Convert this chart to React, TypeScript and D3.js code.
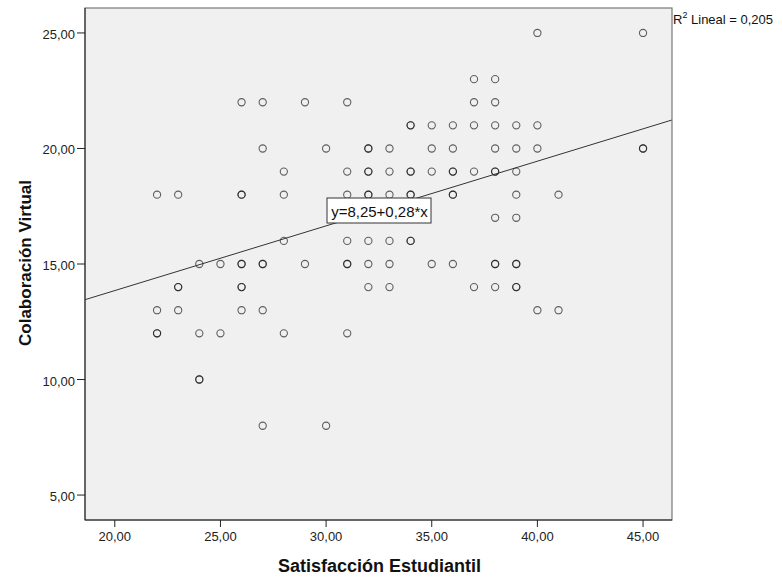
import React from "react";
import * as d3 from "d3";

const satisfaccion = [
  40, 45,
  37, 38,
  26, 27, 29, 31, 37, 38,
  34, 34, 35, 36, 37, 38, 39, 40,
  27, 30, 32, 32, 33, 35, 36, 38, 39, 40, 45, 45,
  28, 31, 32, 32, 33, 34, 34, 35, 36, 36, 37, 38, 38, 39,
  22, 23, 26, 26, 28, 31, 32, 32, 33, 34, 34, 36, 36, 39, 41,
  38, 39,
  28, 31, 32, 33, 34, 34,
  24, 25, 26, 26, 27, 27, 29, 31, 31, 32, 33, 35, 36, 38, 38, 39, 39,
  23, 23, 26, 26, 32, 33, 37, 38, 39, 39,
  22, 23, 26, 27, 40, 41,
  22, 22, 24, 25, 28, 31,
  24, 24,
  27, 30,
];
const colaboracion = [
  25, 25,
  23, 23,
  22, 22, 22, 22, 22, 22,
  21, 21, 21, 21, 21, 21, 21, 21,
  20, 20, 20, 20, 20, 20, 20, 20, 20, 20, 20, 20,
  19, 19, 19, 19, 19, 19, 19, 19, 19, 19, 19, 19, 19, 19,
  18, 18, 18, 18, 18, 18, 18, 18, 18, 18, 18, 18, 18, 18, 18,
  17, 17,
  16, 16, 16, 16, 16, 16,
  15, 15, 15, 15, 15, 15, 15, 15, 15, 15, 15, 15, 15, 15, 15, 15, 15,
  14, 14, 14, 14, 14, 14, 14, 14, 14, 14,
  13, 13, 13, 13, 13, 13,
  12, 12, 12, 12, 12, 12,
  10, 10,
  8, 8,
];
const xTicks = [20, 25, 30, 35, 40, 45];
const yTicks = [5, 10, 15, 20, 25];
const intercept = 8.25;
const slope = 0.28;
const equationLabel = "y=8,25+0,28*x";
const r2Label = "0,205";
const xTitle = "Satisfacción Estudiantil";
const yTitle = "Colaboración Virtual";

const fmt = (v: number) => v.toFixed(2).replace(".", ",");

export default function App() {
  const W = 783, H = 578;
  const left = 85, right = 672, top = 8, bottom = 520;
  const x = d3.scaleLinear().domain([18.59, 46.37]).range([left, right]);
  const y = d3.scaleLinear().domain([3.92, 26.08]).range([bottom, top]);
  const font = "'Liberation Sans', Arial, sans-serif";
  const x0 = x.domain()[0], x1 = x.domain()[1];
  const line = d3.line<number>().x((d) => x(d)).y((d) => y(intercept + slope * d));
  const ex = 379, ey = 210.5;
  return (
    <svg width={W} height={H} style={{ position: "absolute", left: 0, top: 0, background: "#fff" }}>
      <rect x={left} y={top} width={right - left} height={bottom - top} fill="#f0f0f0" />
      {satisfaccion.map((sx, i) => (
        <circle key={i} cx={x(sx)} cy={y(colaboracion[i])} r={3.6} fill="none" stroke="#111" strokeOpacity={0.65} strokeWidth={1.1} />
      ))}
      <path d={line([x0, x1]) || ""} fill="none" stroke="#333" strokeWidth={1} />
      <rect x={left} y={top} width={right - left} height={bottom - top} fill="none" stroke="#777" strokeWidth={1.2} />
      <line x1={left} x2={left} y1={top} y2={bottom} stroke="#222" />
      <line x1={left} x2={right} y1={bottom} y2={bottom} stroke="#222" />
      {xTicks.map((t) => (
        <g key={t}>
          <line x1={x(t)} x2={x(t)} y1={bottom} y2={bottom + 7} stroke="#222" />
          <text x={x(t)} y={bottom + 21} textAnchor="middle" fontFamily={font} fontSize={13} fill="#222">{fmt(t)}</text>
        </g>
      ))}
      {yTicks.map((t) => (
        <g key={t}>
          <line x1={left - 8} x2={left} y1={y(t)} y2={y(t)} stroke="#222" />
          <text x={left - 10} y={y(t) + 6} textAnchor="end" fontFamily={font} fontSize={13} fill="#222">{fmt(t)}</text>
        </g>
      ))}
      <rect x={ex - 52} y={ey - 12.5} width={104} height={25} fill="#fff" stroke="#333" strokeWidth={1} />
      <text x={ex + 0.5} y={ey + 6.5} textAnchor="middle" fontFamily={font} fontSize={15} fill="#111">{equationLabel}</text>
      <text x={673} y={24} fontFamily={font} fontSize={13} fill="#111">
        R<tspan fontSize={9} dy={-6}>2</tspan><tspan dy={6}> Lineal = {r2Label}</tspan>
      </text>
      <text x={379.5} y={572} textAnchor="middle" fontFamily={font} fontSize={18} fontWeight="bold" fill="#111">{xTitle}</text>
      <text transform={`translate(31, 263) rotate(-90)`} textAnchor="middle" fontFamily={font} fontSize={17} fontWeight="bold" fill="#111">{yTitle}</text>
    </svg>
  );
}
